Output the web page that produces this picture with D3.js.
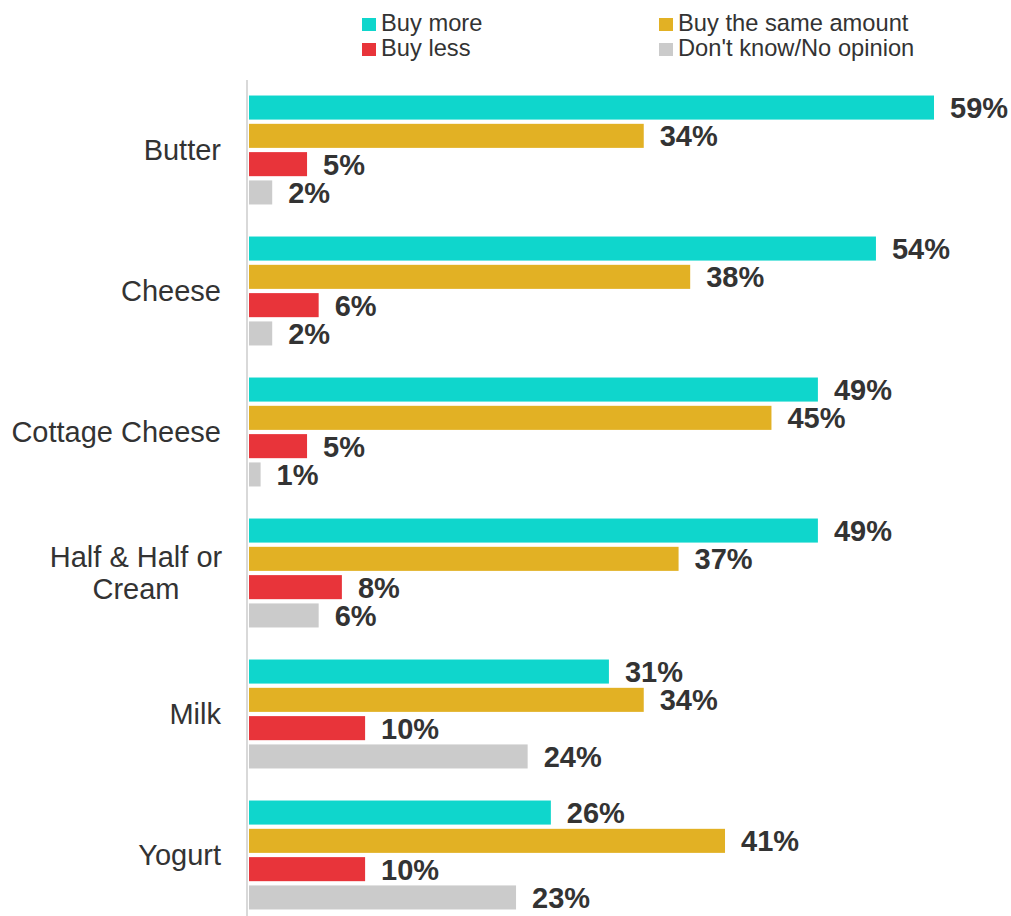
<!DOCTYPE html>
<html>
<head>
<meta charset="utf-8">
<script src="https://cdn.jsdelivr.net/npm/d3@7"></script>
<style>
  html, body { margin: 0; padding: 0; background: #ffffff; }
  svg { display: block; }
  text { font-family: "Liberation Sans", Arial, sans-serif; }
</style>
</head>
<body>
<svg id="chart" width="1011" height="916"></svg>
<script>
// ---- data ----
const categories = ["Butter", "Cheese", "Cottage Cheese", "Half & Half or Cream", "Milk", "Yogurt"];
const categoryLines = [["Butter"], ["Cheese"], ["Cottage Cheese"], ["Half & Half or", "Cream"], ["Milk"], ["Yogurt"]];
const seriesNames = ["Buy more", "Buy the same amount", "Buy less", "Don't know/No opinion"];
const buyMore = [59, 54, 49, 49, 31, 26];
const buySame = [34, 38, 45, 37, 34, 41];
const buyLess = [5, 6, 5, 8, 10, 10];
const dontKnow = [2, 2, 1, 6, 24, 23];
const seriesColors = ["#0fd6cc", "#e2b124", "#e8343a", "#cbcbcb"];

const seriesValues = [buyMore, buySame, buyLess, dontKnow];
const rows = [];
categories.forEach((c, i) => {
  seriesNames.forEach((s, j) => rows.push({ cat: c, series: s, value: seriesValues[j][i], color: seriesColors[j] }));
});

const svg = d3.select("#chart");

const x = d3.scaleLinear().domain([0, 59]).range([249, 934]);
const y0 = d3.scaleBand().domain(categories).range([79.5, 79.5 + 141 * categories.length]).padding(0);
const y1 = d3.scaleBand().domain(seriesNames)
  .range([y0.bandwidth() / 2 - 56.6, y0.bandwidth() / 2 + 56.6])
  .paddingInner(0.15).paddingOuter(0.075);

// axis line
svg.append("line")
  .attr("x1", 247).attr("x2", 247)
  .attr("y1", 80).attr("y2", 916)
  .attr("stroke", "#d9d9d9").attr("stroke-width", 2);

// bars
svg.append("g").selectAll("rect").data(rows).join("rect")
  .attr("x", x(0))
  .attr("y", d => y0(d.cat) + y1(d.series))
  .attr("width", d => x(d.value) - x(0))
  .attr("height", y1.bandwidth())
  .attr("fill", d => d.color);

// value labels
svg.append("g").selectAll("text").data(rows).join("text")
  .attr("x", d => x(d.value) + 16)
  .attr("y", d => y0(d.cat) + y1(d.series) + y1.bandwidth() / 2)
  .attr("dy", "0.36em")
  .attr("font-size", 29)
  .attr("font-weight", "bold")
  .attr("fill", "#333333")
  .text(d => d.value + "%");

// category labels
const catG = svg.append("g");
categories.forEach((c, i) => {
  const lines = categoryLines[i];
  const cy = y0(c) + y0.bandwidth() / 2;
  const lh = 32;
  const t = catG.append("text")
    .attr("font-size", 29)
    .attr("fill", "#333333");
  if (lines.length === 1) {
    t.attr("x", 221).attr("y", cy).attr("dy", "0.36em").attr("text-anchor", "end").text(lines[0]);
  } else {
    lines.forEach((l, k) => {
      t.append("tspan")
        .attr("x", 136)
        .attr("y", cy + (k - (lines.length - 1) / 2) * lh)
        .attr("dy", "0.36em")
        .attr("text-anchor", "middle")
        .text(l);
    });
  }
});

// legend
const legendPos = [[362, 18], [659, 18], [362, 43], [659, 43]];
const order = [0, 1, 2, 3];
const lg = svg.append("g");
order.forEach((j, k) => {
  const [lx, ly] = legendPos[k];
  lg.append("rect").attr("x", lx).attr("y", ly).attr("width", 14).attr("height", 13).attr("fill", seriesColors[j]);
  lg.append("text").attr("x", lx + 19).attr("y", ly + 13)
    .attr("font-size", 23.7).attr("fill", "#333333").text(seriesNames[j]);
});
</script>
</body>
</html>
